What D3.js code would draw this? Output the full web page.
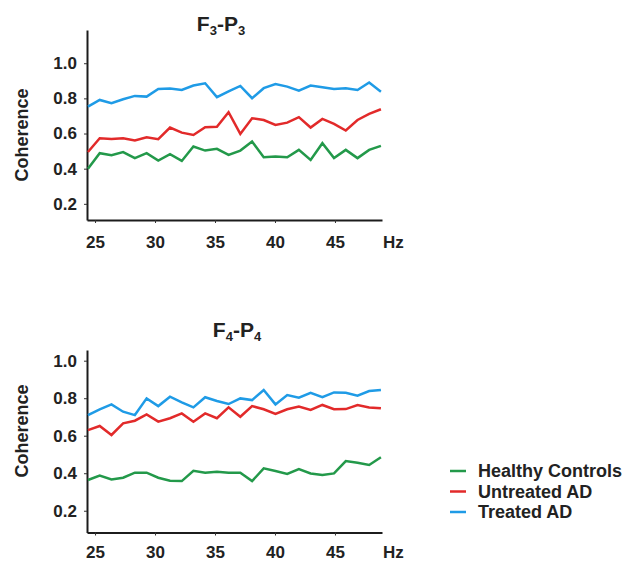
<!DOCTYPE html>
<html>
<head>
<meta charset="utf-8">
<script src="https://cdn.jsdelivr.net/npm/d3@7"></script>
<style>
  body { margin: 0; background: #fff; }
  text { font-family: "Liberation Sans", Arial, sans-serif; font-weight: bold; fill: #222; }
</style>
</head>
<body>
<svg id="chart"></svg>
<script>
// frequency bins (Hz)
const hz = [24.41, 25.39, 26.37, 27.34, 28.32, 29.30, 30.27, 31.25, 32.23, 33.20, 34.18, 35.16, 36.13,
  37.11, 38.09, 39.06, 40.04, 41.02, 41.99, 42.97, 43.95, 44.92, 45.90, 46.88, 47.85, 48.83]

const xTicks = [25, 30, 35, 40, 45]
const yTicks = [0.2, 0.4, 0.6, 0.8, 1.0]
const groups = ['Healthy Controls', 'Untreated AD', 'Treated AD']

// F3-P3
const f3p3Healthy = [0.40, 0.488, 0.477, 0.494, 0.460, 0.488, 0.446, 0.482, 0.444, 0.526, 0.503, 0.513, 0.478,
  0.503, 0.554, 0.465, 0.469, 0.465, 0.507, 0.450, 0.545, 0.460, 0.507, 0.460, 0.507, 0.530]
const f3p3Untreated = [0.495, 0.573, 0.569, 0.573, 0.560, 0.579, 0.568, 0.634, 0.605, 0.592, 0.636, 0.639, 0.721,
  0.598, 0.687, 0.677, 0.649, 0.662, 0.693, 0.634, 0.683, 0.655, 0.617, 0.677, 0.712, 0.738]
const f3p3Treated = [0.753, 0.791, 0.772, 0.795, 0.814, 0.810, 0.854, 0.856, 0.848, 0.873, 0.886, 0.807, 0.840,
  0.871, 0.801, 0.858, 0.881, 0.867, 0.844, 0.873, 0.863, 0.854, 0.858, 0.848, 0.890, 0.838]

// F4-P4
const f4p4Healthy = [0.364, 0.387, 0.367, 0.376, 0.403, 0.403, 0.376, 0.360, 0.358, 0.413, 0.403, 0.408, 0.403,
  0.403, 0.358, 0.426, 0.412, 0.396, 0.422, 0.399, 0.390, 0.399, 0.465, 0.456, 0.444, 0.485]
const f4p4Untreated = [0.630, 0.652, 0.604, 0.666, 0.680, 0.714, 0.675, 0.693, 0.719, 0.675, 0.719, 0.693, 0.751,
  0.701, 0.758, 0.741, 0.716, 0.741, 0.755, 0.737, 0.764, 0.741, 0.742, 0.764, 0.751, 0.746]
const f4p4Treated = [0.710, 0.741, 0.767, 0.728, 0.710, 0.799, 0.758, 0.808, 0.778, 0.751, 0.805, 0.785, 0.769,
  0.799, 0.790, 0.844, 0.767, 0.817, 0.803, 0.829, 0.805, 0.831, 0.829, 0.813, 0.838, 0.844]

const colors = ['#23994a', '#e22a2a', '#1f9be6']

const width = 635, height = 564
const left = 87, right = 382

const panels = [
  { lead: '3', series: [f3p3Healthy, f3p3Untreated, f3p3Treated],
    top: 30, bottom: 220, yDomain: [0.108, 1.189], titleX: 221, titleY: 31, labelY: 135, pad: 13 },
  { lead: '4', series: [f4p4Healthy, f4p4Untreated, f4p4Treated],
    top: 350, bottom: 532.5, yDomain: [0.084, 1.057], titleX: 237, titleY: 337, labelY: 431, pad: 10 }
]

const svg = d3.select('#chart')
  .attr('width', width)
  .attr('height', height)

const x = d3.scaleLinear()
  .domain([24.33, 48.92])
  .range([left, right])

panels.forEach(p => {
  const g = svg.append('g')

  const y = d3.scaleLinear()
    .domain(p.yDomain)
    .range([p.bottom, p.top])

  // title with subscripts
  const t = g.append('text')
    .attr('x', p.titleX)
    .attr('y', p.titleY)
    .attr('text-anchor', 'middle')
    .style('font-size', '21px')
  t.append('tspan').text('F')
  t.append('tspan').text(p.lead).style('font-size', '13px').attr('dy', 4)
  t.append('tspan').text('-P').attr('dy', -4)
  t.append('tspan').text(p.lead).style('font-size', '13px').attr('dy', 4)

  const yAxis = d3.axisLeft(y)
    .tickValues(yTicks)
    .tickFormat(d3.format('.1f'))
    .tickSize(3)
    .tickSizeOuter(0)
    .tickPadding(7)

  const xAxis = d3.axisBottom(x)
    .tickValues(xTicks)
    .tickSize(3)
    .tickSizeOuter(0)
    .tickPadding(p.pad)

  const ya = g.append('g')
    .attr('transform', `translate(${left}, 0)`)
    .call(yAxis)

  const xa = g.append('g')
    .attr('transform', `translate(0, ${p.bottom})`)
    .call(xAxis)

  ;[ya, xa].forEach(a => {
    a.attr('font-family', null).attr('font-size', null)
    a.select('.domain').attr('stroke', '#1c1c1c').attr('stroke-width', 2)
    a.selectAll('.tick line').attr('stroke', '#333').attr('stroke-width', 1)
    a.selectAll('.tick text').style('font-size', '17px').attr('fill', '#222')
  })

  g.append('text')
    .attr('x', right + 1)
    .attr('y', p.bottom + 3 + p.pad)
    .attr('dy', '0.71em')
    .style('font-size', '17px')
    .text('Hz')

  g.append('text')
    .attr('transform', `translate(28, ${p.labelY}) rotate(-90)`)
    .attr('text-anchor', 'middle')
    .style('font-size', '18px')
    .text('Coherence')

  const line = d3.line()
    .x((d, i) => x(hz[i]))
    .y(d => y(d))

  g.selectAll('.series')
    .data(p.series)
    .enter().append('path')
    .attr('class', 'series')
    .attr('d', line)
    .attr('fill', 'none')
    .attr('stroke', (d, i) => colors[i])
    .attr('stroke-width', 2.5)
    .attr('stroke-linejoin', 'miter')
})

// legend
const legend = svg.append('g')
  .attr('transform', 'translate(450, 471)')

const item = legend.selectAll('.item')
  .data(groups)
  .enter().append('g')
  .attr('class', 'item')
  .attr('transform', (d, i) => `translate(0, ${i * 20.5})`)

item.append('line')
  .attr('x1', 0).attr('x2', 16)
  .attr('stroke', (d, i) => colors[i])
  .attr('stroke-width', 2.5)

item.append('text')
  .attr('x', 28)
  .attr('dy', '0.36em')
  .style('font-size', '18px')
  .text(d => d)
</script>
</body>
</html>
